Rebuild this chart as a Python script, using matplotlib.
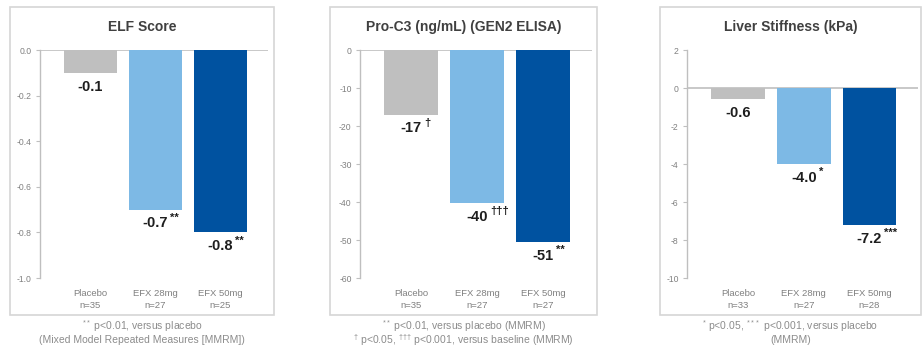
import matplotlib
matplotlib.use("Agg")
import matplotlib.pyplot as plt
from matplotlib.patches import Rectangle

plt.rcParams['font.family'] = ['Liberation Sans', 'DejaVu Sans']
plt.rcParams['axes.unicode_minus'] = False
plt.rcParams['mathtext.default'] = 'regular'

# data
groups = ["Placebo", "EFX 28mg", "EFX 50mg"]
elf_n = ["n=35", "n=27", "n=25"]
elf_vals = [-0.1, -0.7, -0.8]
elf_marks = ["", "**", "**"]
proc3_n = ["n=35", "n=27", "n=27"]
proc3_vals = [-17, -40.2, -50.5]
proc3_labels = ["-17", "-40", "-51"]
proc3_marks = ["\u2020", "\u2020\u2020\u2020", "**"]
liver_n = ["n=33", "n=27", "n=28"]
liver_vals = [-0.6, -4.0, -7.2]
liver_marks = ["", "*", "***"]

colors = ["#BFBFBF", "#7DB9E5", "#0052A0"]
W, H = 922, 347

panels = [
    dict(title="ELF Score", box=(10, 7, 274, 315), ax_x=(40, 268),
         vals=elf_vals, labels=["-0.1", "-0.7", "-0.8"], marks=elf_marks, n=elf_n,
         ylim=(-1.0, 0.0), yticks=[0.0, -0.2, -0.4, -0.6, -0.8, -1.0], fmt="{:.1f}",
         foot=["$^{**}$ p<0.01, versus placebo",
               "(Mixed Model Repeated Measures [MMRM])"]),
    dict(title="Pro-C3 (ng/mL) (GEN2 ELISA)", box=(330, 7, 597, 315), ax_x=(360, 592),
         vals=proc3_vals, labels=proc3_labels, marks=proc3_marks, n=proc3_n,
         ylim=(-60, 0), yticks=[0, -10, -20, -30, -40, -50, -60], fmt="{:d}",
         foot=["$^{**}$ p<0.01, versus placebo (MMRM)",
               "$^{\u2020}$ p<0.05, $^{\u2020\u2020\u2020}$ p<0.001, versus baseline (MMRM)"]),
    dict(title="Liver Stiffness (kPa)", box=(660, 7, 921, 315), ax_x=(687, 918),
         vals=liver_vals, labels=["-0.6", "-4.0", "-7.2"], marks=liver_marks, n=liver_n,
         ylim=(-10, 2), yticks=[2, 0, -2, -4, -6, -8, -10], fmt="{:d}",
         foot=["$^{*}$ p<0.05, $^{***}$ p<0.001, versus placebo", "(MMRM)"]),
]

fig = plt.figure(figsize=(W / 100, H / 100), dpi=100)

for p in panels:
    x0, y0, x1, y1 = p["box"]
    fig.add_artist(Rectangle((x0 / W, 1 - y1 / H), (x1 - x0) / W, (y1 - y0) / H,
                             transform=fig.transFigure, fill=False,
                             edgecolor="#D6D6D6", linewidth=1.2))
    cx = (x0 + x1) / 2 / W
    fig.text(cx, 1 - 27 / H, p["title"], ha="center", va="center",
             fontsize=10, fontweight="bold", color="#404040")
    fig.text(cx, 1 - 326 / H, p["foot"][0], ha="center", va="center",
             fontsize=7.5, color="#8C8C8C")
    fig.text(cx, 1 - 340 / H, p["foot"][1], ha="center", va="center",
             fontsize=7.5, color="#8C8C8C")

    ax0, ax1 = p["ax_x"]
    ax = fig.add_axes([ax0 / W, 1 - 278 / H, (ax1 - ax0) / W, (278 - 50) / H])
    xs = range(len(groups))
    ax.bar(xs, p["vals"], width=0.82, color=colors, zorder=2)
    ax.axhline(0, color="#BFBFBF", linewidth=1.2, zorder=1)
    ax.set_xlim(-0.78, 2.74)
    ax.set_ylim(*p["ylim"])
    ax.set_yticks(p["yticks"])
    ax.set_yticklabels([p["fmt"].format(t) for t in p["yticks"]])
    ax.set_xticks(list(xs))
    ax.set_xticklabels([g + "\n" + n for g, n in zip(groups, p["n"])],
                       fontsize=6.8, color="#808080", linespacing=1.4)
    ax.tick_params(axis="x", length=0, pad=8)
    ax.tick_params(axis="y", length=3, width=0.8, color="#BFBFBF",
                   labelsize=6.2, labelcolor="#808080", pad=3)
    for s in ["top", "right", "bottom"]:
        ax.spines[s].set_visible(False)
    ax.spines["left"].set_color("#BFBFBF")
    ax.spines["left"].set_linewidth(1.0)
    ax.patch.set_alpha(0)

    for i, (v, lab, mk) in enumerate(zip(p["vals"], p["labels"], p["marks"])):
        t = ax.annotate(lab, (i, v), xytext=(0, -10), textcoords="offset points",
                        ha="center", va="center", fontsize=10.5, fontweight="bold",
                        color="#1E1E1E")
        if mk:
            ax.annotate(mk, (1, 0.55), xycoords=t, xytext=(1.5, 0),
                        textcoords="offset points", ha="left", va="bottom",
                        fontsize=8, fontweight="bold", color="#1E1E1E")

fig.savefig("out.png", dpi=100)
